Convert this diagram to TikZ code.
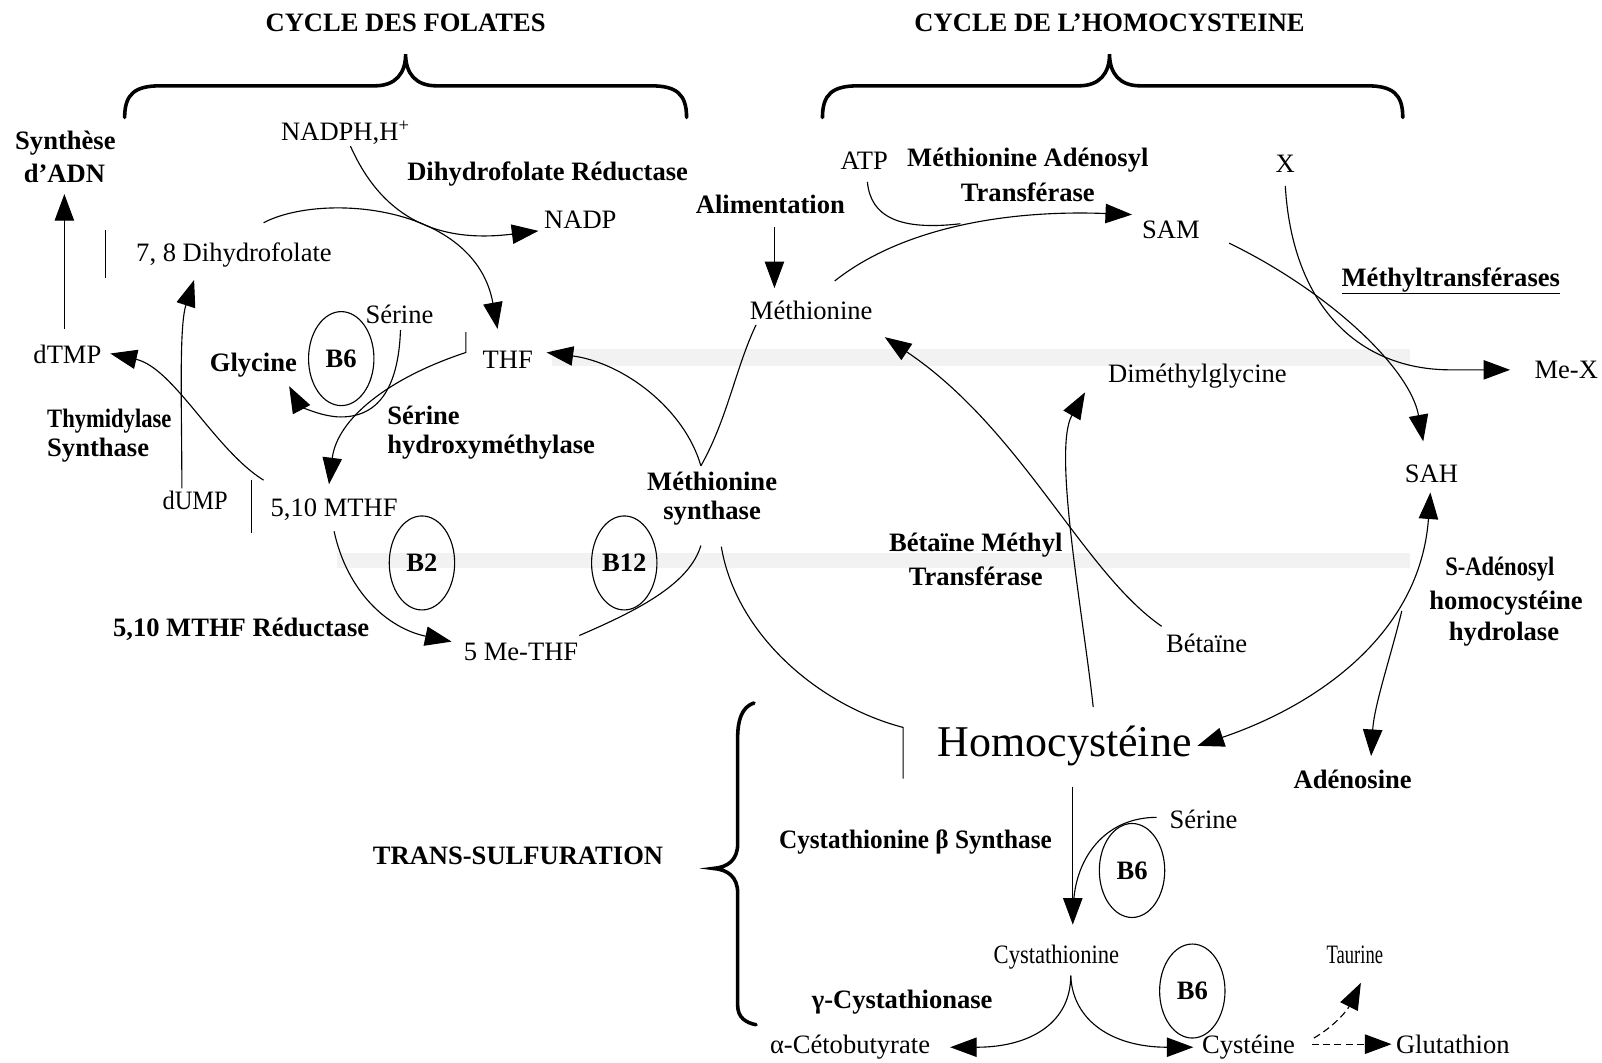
\documentclass[tikz,border=0pt]{standalone}
\usepackage{fontspec}
\setmainfont{Liberation Serif}
\usetikzlibrary{arrows.meta,shapes.geometric}
\newcommand{\cnd}[2][0.85]{\scalebox{#1}[1]{#2}}
\tikzset{
  lbl/.style={font=\fontsize{26}{29}\selectfont, inner sep=1pt},
  blbl/.style={font=\fontsize{26}{29}\selectfont\bfseries, inner sep=1pt},
  bigl/.style={font=\fontsize{43}{47}\selectfont, inner sep=1pt},
  vit/.style={draw, ellipse, line width=1.1pt, minimum width=64pt, minimum height=92pt, inner sep=0pt, font=\fontsize{26}{29}\selectfont\bfseries},
  conn/.style={line width=1.1pt},
  arr/.style={conn, -{Triangle[length=26pt,width=19pt]}},
  darr/.style={conn, {Triangle[length=26pt,width=19pt]}-{Triangle[length=26pt,width=19pt]}},
  bar/.style={line width=1.1pt},
  brace/.style={line width=3.5pt, line cap=round},
  band/.style={fill=black!5, draw=none},
  dsh/.style={dash pattern=on 7pt off 4pt}
}
\begin{document}
\begin{tikzpicture}[x=1pt,y=-1pt]
\useasboundingbox (0,0) rectangle (1568,1040);
\fill[white] (0,0) rectangle (1568,1040);
% faint background bands
\fill[band] (540,342) rectangle (1380,358);
\fill[band] (330,541) rectangle (1380,556);

% titles and braces
\node[blbl] (tfol) at (397,22) {CYCLE DES FOLATES};
\node[blbl] (thcy) at (1086,22) {CYCLE DE L’HOMOCYSTEINE};
\draw[brace] (122,115) .. controls (122,92) and (132,84) .. (157,84) -- (367,84) .. controls (387,84) and (397,72) .. (397,53) .. controls (397,72) and (407,84) .. (427,84) -- (637,84) .. controls (662,84) and (672,92) .. (672,115);
\draw[brace] (805,115) .. controls (805,92) and (815,84) .. (840,84) -- (1056,84) .. controls (1076,84) and (1086,72) .. (1086,53) .. controls (1086,72) and (1096,84) .. (1116,84) -- (1338,84) .. controls (1363,84) and (1373,92) .. (1373,115);
\draw[brace] (738,688) .. controls (726,692) and (722,705) .. (722,722) -- (722,826) .. controls (722,842) and (712,849) .. (698,850) .. controls (712,851) and (722,858) .. (722,874) -- (722,984) .. controls (722,996) and (730,1001) .. (740,1003);
\node[blbl] (trans) at (507,838) {TRANS-SULFURATION};

% ---------------- folate cycle ----------------
\node[blbl] (adn1) at (64,140) {Synthèse};
\node[blbl] (adn2) at (63,170) {d’ADN};
\node[lbl] (nadph) at (338,130) {NADPH,H\textsuperscript{+}};
\node[blbl] (dhfr) at (536,170) {Dihydrofolate Réductase};
\node[lbl] (nadp) at (568,215) {NADP};
\node[lbl] (dhf) at (229,250) {7, 8 Dihydrofolate};
\node[lbl] (ser1) at (391,308) {Sérine};
\node[vit] (b6a) at (334,351) {B6};
\node[blbl] (gly) at (248,357) {Glycine};
\node[lbl] (thf) at (497,352) {THF};
\node[blbl, anchor=west] (shm1) at (378,407) {Sérine};
\node[blbl, anchor=west] (shm2) at (378,438) {hydroxyméthylase};
\node[lbl] (dtmp) at (66,347) {dTMP};
\node[blbl, anchor=west] (ts1) at (45,412) {\cnd{Thymidylase}};
\node[blbl, anchor=west] (ts2) at (45,441) {Synthase};
\node[lbl] (dump) at (191,490) {\cnd[0.92]{dUMP}};
\node[lbl] (mthf) at (327,499) {5,10 MTHF};
\node[vit] (b2) at (413,551) {B2};
\node[blbl] (mthfr) at (236,616) {5,10 MTHF Réductase};
\node[lbl] (methf) at (510,638) {5 Me-THF};
\node[vit] (b12) at (611,551) {B12};
\node[blbl] (ms1) at (697,471) {Méthionine};
\node[blbl] (ms2) at (697,502) {synthase};

\coordinate (c1) at (63,322);
\draw[arr] (c1) -- (adn2.south |- 0,190);
\draw[bar] (103,225) -- (103,272);
\draw[bar] (246,470) -- (246,522);
\coordinate (nadphs) at (343,143);
\coordinate (nadpe) at (527,226);
\draw[arr] (nadphs) .. controls (375,215) and (430,238) .. (nadpe);
\coordinate (dhfs) at (258,218);
\coordinate (thfn) at (487,322);
\draw[arr] (dhfs) .. controls (315,188) and (465,200) .. (thfn);
\coordinate (sers) at (392,323);
\coordinate (glye) at (283,378);
\draw[arr] (sers) .. controls (390,380) and (370,410) .. (330,408) .. controls (307,406) and (292,395) .. (glye);
\coordinate (thfs) at (456,325);
\coordinate (mthfn) at (322,474);
\draw[arr] (thfs) -- (456,345) .. controls (380,370) and (330,410) .. (mthfn);
\coordinate (mthfw) at (258,470);
\coordinate (dtmpe) at (108,346);
\draw[arr] (mthfw) .. controls (210,440) and (170,360) .. (dtmpe);
\coordinate (dumps) at (178,478);
\coordinate (dhfe) at (190,274);
\draw[arr] (dumps) .. controls (178,400) and (175,320) .. (dhfe);
\coordinate (mthfs) at (327,520);
\coordinate (methfe) at (442,628);
\draw[arr] (mthfs) .. controls (340,580) and (380,615) .. (methfe);
\coordinate (methfs) at (567,622);
\coordinate (mss) at (686,534);
\draw[conn] (methfs) .. controls (630,595) and (675,570) .. (mss);
\coordinate (msn) at (686,456);
\coordinate (thfe) at (535,345);
\draw[arr] (msn) .. controls (670,400) and (610,355) .. (thfe);

% ---------------- homocysteine cycle ----------------
\node[blbl] (alim) at (754,200) {Alimentation};
\node[lbl] (met) at (794,304) {Méthionine};
\node[lbl] (atp) at (846,157) {ATP};
\node[blbl] (mat1) at (1006,157) {Méthionine Adénosyl};
\node[blbl] (mat2) at (1006,188) {Transférase};
\node[lbl] (sam) at (1146,225) {SAM};
\node[lbl] (x) at (1258,160) {X};
\node[blbl] (mtr) at (1420,275) {\underline{Méthyltransférases}};
\node[lbl] (mex) at (1533,362) {Me-X};
\node[lbl] (dmg) at (1172,368) {Diméthylglycine};
\node[lbl] (sah) at (1401,464) {SAH};
\node[blbl] (bmt1) at (955,534) {Bétaïne Méthyl};
\node[blbl] (bmt2) at (955,564) {Transférase};
\node[lbl] (bet) at (1181,630) {Bétaïne};
\node[blbl] (sahh1) at (1468,557) {\cnd{S-Adénosyl}};
\node[blbl] (sahh2) at (1474,590) {homocystéine};
\node[blbl] (sahh3) at (1472,621) {hydrolase};
\node[bigl] (hcy) at (1042,730) {Homocystéine};
\node[blbl] (ado) at (1324,763) {Adénosine};

\coordinate (alims) at (758,222);
\coordinate (mete) at (758,282);
\draw[arr] (alims) -- (mete);
\coordinate (metsw) at (740,318);
\draw[conn] (metsw) .. controls (720,360) and (712,410) .. (msn);
\coordinate (mssb) at (706,535);
\coordinate (hcyw) at (884,712);
\coordinate (hcywb) at (884,762);
\draw[conn] (mssb) .. controls (720,620) and (800,690) .. (hcyw) -- (hcywb);
\coordinate (metne) at (817,275);
\coordinate (samw) at (1108,210);
\draw[arr] (metne) .. controls (880,225) and (980,205) .. (samw);
\coordinate (atps) at (849,178);
\coordinate (atpe) at (940,219);
\draw[conn] (atps) .. controls (852,212) and (880,226) .. (atpe);
\coordinate (sams) at (1203,238);
\coordinate (sahn) at (1393,432);
\draw[arr] (sams) .. controls (1300,285) and (1380,360) .. (sahn);
\coordinate (xs) at (1258,182);
\coordinate (mexw) at (1478,362);
\draw[arr] (xs) .. controls (1265,300) and (1330,362) .. (1420,362) -- (mexw);
\coordinate (hcyn) at (1070,692);
\coordinate (dmgs) at (1062,384);
\draw[arr] (hcyn) .. controls (1060,600) and (1030,440) .. (dmgs);
\coordinate (bets) at (1137,613);
\coordinate (metse) at (866,330);
\draw[arr] (bets) .. controls (1060,560) and (1000,420) .. (metse);
\coordinate (sahs) at (1400,482);
\coordinate (hcye) at (1172,730);
\draw[darr] (sahs) .. controls (1390,620) and (1290,690) .. (hcye);
\coordinate (ados) at (1372,598);
\coordinate (adoe) at (1342,740);
\draw[arr] (ados) .. controls (1362,640) and (1345,690) .. (adoe);

% ---------------- trans-sulfuration ----------------
\node[lbl] (ser2) at (1178,802) {Sérine};
\node[vit] (b6b) at (1108,852) {B6};
\node[blbl] (cbs) at (896,824) {\cnd[0.95]{Cystathionine β Synthase}};
\node[lbl] (cyst) at (1034,937) {\cnd{Cystathionine}};
\node[lbl] (tau) at (1326,935) {\cnd[0.7]{Taurine}};
\node[vit] (b6c) at (1167,970) {B6};
\node[blbl] (cgl) at (883,981) {γ-Cystathionase};
\node[lbl] (akb) at (832,1025) {α-Cétobutyrate};
\node[lbl] (cys) at (1222,1025) {Cystéine};
\node[lbl] (gsh) at (1422,1022) {Glutathion};

\coordinate (hcys) at (1050,770);
\coordinate (cystn) at (1050,905);
\draw[arr] (hcys) -- (cystn);
\coordinate (ser2s) at (1132,800);
\coordinate (ser2e) at (1051,880);
\draw[conn] (ser2s) .. controls (1085,800) and (1055,835) .. (ser2e);
\coordinate (cysts) at (1048,955);
\coordinate (akbe) at (930,1025);
\coordinate (cyse) at (1168,1025);
\draw[arr] (cysts) .. controls (1048,1000) and (1010,1025) .. (akbe);
\draw[arr] (cysts) .. controls (1050,1000) and (1090,1025) .. (cyse);
\coordinate (cysr) at (1284,1022);
\coordinate (gshw) at (1362,1022);
\draw[arr, dsh] (cysr) -- (gshw);
\coordinate (cysn) at (1286,1016);
\coordinate (taus) at (1332,962);
\draw[arr, dsh] (cysn) .. controls (1305,1005) and (1318,990) .. (taus);
\end{tikzpicture}
\end{document}
